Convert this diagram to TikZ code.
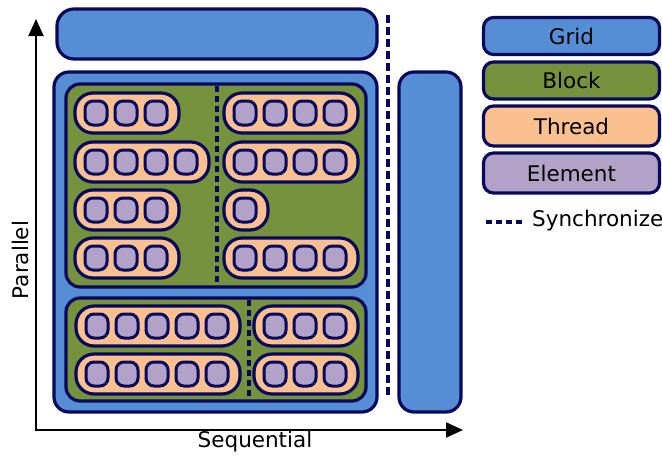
\documentclass[tikz,border=0pt]{standalone}
\usepackage{fontspec}
\setmainfont{DejaVu Sans}
\usetikzlibrary{arrows.meta}
\definecolor{gridc}{RGB}{85,142,213}
\definecolor{blockc}{RGB}{118,146,60}
\definecolor{threadc}{RGB}{250,192,144}
\definecolor{elemc}{RGB}{178,162,199}
\definecolor{edgec}{RGB}{8,8,92}
\tikzset{
  box/.style={draw=edgec,line width=3.2pt},
  gridbox/.style={box,fill=gridc,rounded corners=15pt},
  blockbox/.style={box,fill=blockc,rounded corners=14pt},
  threadbox/.style={box,fill=threadc,rounded corners=18pt},
  elembox/.style={draw=edgec,line width=3pt,fill=elemc,rounded corners=8pt},
  legbox/.style={box,rounded corners=10pt,minimum width=176pt,minimum height=37pt,inner sep=0pt,font=\fontsize{21.5}{25}\selectfont},
  syncline/.style={draw=edgec,line width=3.2pt,dash pattern=on 6pt off 4pt},
  lbl/.style={font=\fontsize{21.5}{25}\selectfont,inner sep=0pt},
  axis/.style={line width=2.2pt,{Triangle[length=17pt,width=15pt]}-{Triangle[length=17pt,width=15pt]}}
}
\newcommand\thr[3]{%
  \draw[threadbox] ({#1},{#2-20}) rectangle ++({30*#3+14},40);
  \foreach \k in {1,...,#3}{\draw[elembox] ({#1+10+30*(\k-1)},{#2-12}) rectangle ++(22,24);}
}
\begin{document}
\begin{tikzpicture}[x=1pt,y=-1pt]
\useasboundingbox (0,0) rectangle (662,459);
% axes
\coordinate (ytop) at (36,19);
\coordinate (origin) at (36,430);
\coordinate (xend) at (463,430);
\draw[axis] (ytop) -- (origin) -- (xend);
\node[lbl] (seq) at (255,442) {Sequential};
\node[lbl,rotate=90] (par) at (20,260) {Parallel};
% top grid bar and right bar
\draw[gridbox,rounded corners=17pt] (57,9) rectangle (377,59);
\draw[gridbox] (54,72) rectangle (377,412);
\draw[gridbox] (399,72) rectangle (461,412);
\coordinate (s1) at (388,15);
\coordinate (s2) at (388,396);
\draw[syncline,dash pattern=on 8pt off 4pt] (s1) -- (s2);
% block 1
\draw[blockbox] (66,84) rectangle (366,287);
\coordinate (d1a) at (217,86);
\coordinate (d1b) at (217,285);
\draw[syncline] (d1a) -- (d1b);
\thr{75}{113}{3}
\thr{75}{162}{4}
\thr{75}{210}{3}
\thr{75}{258}{3}
\thr{224}{113}{4}
\thr{224}{162}{4}
\thr{224}{210}{1}
\thr{224}{258}{4}
% block 2
\draw[blockbox] (66,298) rectangle (366,401);
\coordinate (d2a) at (249,300);
\coordinate (d2b) at (249,399);
\draw[syncline] (d2a) -- (d2b);
\thr{76}{326}{5}
\thr{76}{374}{5}
\thr{254}{326}{3}
\thr{254}{374}{3}
% legend
\node[legbox,fill=gridc] (lg) at (571.5,36) {Grid};
\node[legbox,fill=blockc] (lb) at (571.5,80.5) {Block};
\node[legbox,fill=threadc,minimum height=40pt] (lt) at (571.5,126) {Thread};
\node[legbox,fill=elemc,minimum height=40pt] (le) at (571.5,173) {Element};
\coordinate (ls1) at (486,222);
\coordinate (ls2) at (524,222);
\draw[syncline] (ls1) -- (ls2);
\node[lbl,anchor=west] (ls) at (532,221) {Synchronize};
\end{tikzpicture}
\end{document}
